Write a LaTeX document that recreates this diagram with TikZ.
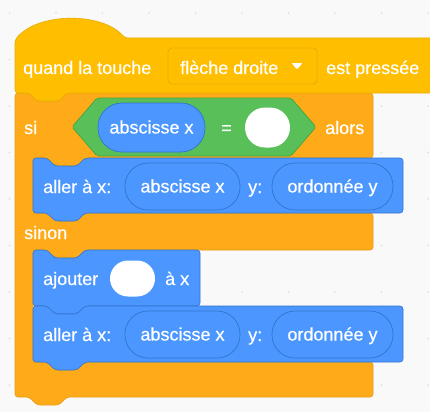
\documentclass[tikz,border=0pt]{standalone}
\usepackage{fontspec}
\setmainfont{Liberation Sans}
\newfontfamily\blockface{Liberation Sans}[BoldFont={Liberation Sans}, BoldFeatures={FakeBold=0.4}]

\definecolor{bgcol}{HTML}{F9F9F9}
\definecolor{dotcol}{HTML}{DCDCDC}
\definecolor{eventcol}{HTML}{FFBF00}
\definecolor{eventline}{HTML}{E6AC00}
\definecolor{ctrlcol}{HTML}{FFAB19}
\definecolor{ctrlline}{HTML}{E89A12}
\definecolor{opcol}{HTML}{59C059}
\definecolor{opline}{HTML}{42A542}
\definecolor{motioncol}{HTML}{4C97FF}
\definecolor{motionline}{HTML}{3373CC}

% stack block: left, top, right, bottom (notch on top, tab below)
\newcommand{\stackblock}[4]{(#1,#2) -- (#1+14,#2) -- (#1+22,#2+8) -- (#1+44,#2+8) -- (#1+52,#2) -- (#3,#2) -- (#3,#4) -- (#1+52,#4) -- (#1+44,#4+8) -- (#1+22,#4+8) -- (#1+14,#4) -- (#1,#4) -- cycle}

\tikzset{
  blockfont/.style={font=\blockface\bfseries\fontsize{18}{20}\selectfont},
  lbl/.style={blockfont, text=white, anchor=west, inner sep=0pt,
              text height=12pt, text depth=0pt},
  pill/.style={blockfont, draw=motionline, fill=motioncol, text=white,
               line width=0.7pt, inner sep=0pt, text height=12pt, text depth=0pt,
               minimum height=47pt, rounded corners=23pt},
  slot/.style={fill=white, inner sep=0pt, rounded corners=18pt},
  blockline/.style={line width=0.6pt, rounded corners=3pt}
}

\begin{document}
\begin{tikzpicture}[x=1pt, y=-1pt]
	\fill[bgcol] (0,0) rectangle (430,412);
	\clip (0,0) rectangle (430,412);
	\foreach \i in {0,...,9}
	    \foreach \j in {0,...,8}
	        \fill[dotcol] (9.5+46.5*\i, 13+46.5*\j) circle (0.9);

	% if / else
	\draw[blockline, fill=ctrlcol, draw=ctrlline]
	    (15,93) -- (29,93) -- (37,101) -- (59,101) -- (67,93) -- (373,93)
	    -- (373,158) -- (85,158) -- (77,166) -- (55,166) -- (47,158) -- (33,158)
	    -- (33,213) -- (47,213) -- (55,221) -- (77,221) -- (85,213) -- (373,213)
	    -- (373,250) -- (85,250) -- (77,258) -- (55,258) -- (47,250) -- (33,250)
	    -- (33,362) -- (47,362) -- (55,370) -- (77,370) -- (85,362) -- (373,362)
	    -- (373,397) -- (67,397) -- (59,405) -- (37,405) -- (29,397) -- (15,397)
	    -- cycle;

	% hat block
	\draw[blockline, fill=eventcol, draw=eventline]
	    (15,93) -- (15,40) .. controls (38,12) and (102,12) .. (125,38)
	    -- (440,38) -- (440,93) -- (67,93) -- (59,101) -- (37,101) -- (29,93)
	    -- cycle;
	\node[draw=eventline, fill=eventcol, line width=0.8pt, rounded corners=4pt,
	      minimum width=149pt, minimum height=36pt] (drop) at (242.5,66) {};
	\node[lbl] (quand) at (23,68) {quand la touche};
	\node[lbl] (fleche) at (180,68) {flèche droite};
	\fill[white, rounded corners=1pt] (291.5,63) -- (302.5,63) -- (297,69.5) -- cycle;
	\node[lbl] (presse) at (326,68) {est pressée};

	% condition
	\node[lbl] (si) at (24,128) {si};
	\draw[fill=opcol, draw=opline, line width=0.7pt, rounded corners=2pt]
	    (72,127) -- (97,98) -- (291,98) -- (316,127) -- (291,156) -- (97,156) -- cycle;
	\node[pill, minimum width=107pt, minimum height=49pt, rounded corners=24pt]
	    (absx) at (151.5,127.5) {abscisse x};
	\node[lbl] (egal) at (221,128) {=};
	\node[slot, minimum width=45pt, minimum height=40pt, rounded corners=20pt]
	    (val) at (267.5,127.5) {};
	\node[lbl] (alors) at (325,128) {alors};

	% first goto
	\draw[blockline, fill=motioncol, draw=motionline] \stackblock{33}{158}{403}{213};
	\node[lbl] (aller) at (43,187) {aller à x:};
	\node[pill, minimum width=115pt] (absxa) at (182.5,186.5) {abscisse x};
	\node[lbl] (ya) at (248,187) {y:};
	\node[pill, minimum width=121pt] (ordya) at (332.5,186.5) {ordonnée y};

	\node[lbl] (sinon) at (24,233) {sinon};

	% change x
	\draw[blockline, fill=motioncol, draw=motionline] \stackblock{33}{250}{200}{306};
	\node[lbl] (ajouter) at (43,279) {ajouter};
	\node[slot, minimum width=45pt, minimum height=36pt] (pas) at (132.5,278.5) {};
	\node[lbl] (ax) at (165,279) {à x};

	% second goto
	\draw[blockline, fill=motioncol, draw=motionline] \stackblock{33}{306}{403}{362};
	\node[lbl] (allerb) at (43,335) {aller à x:};
	\node[pill, minimum width=115pt] (absxb) at (182.5,334.5) {abscisse x};
	\node[lbl] (yb) at (248,335) {y:};
	\node[pill, minimum width=121pt] (ordyb) at (332.5,334.5) {ordonnée y};
\end{tikzpicture}
\end{document}
